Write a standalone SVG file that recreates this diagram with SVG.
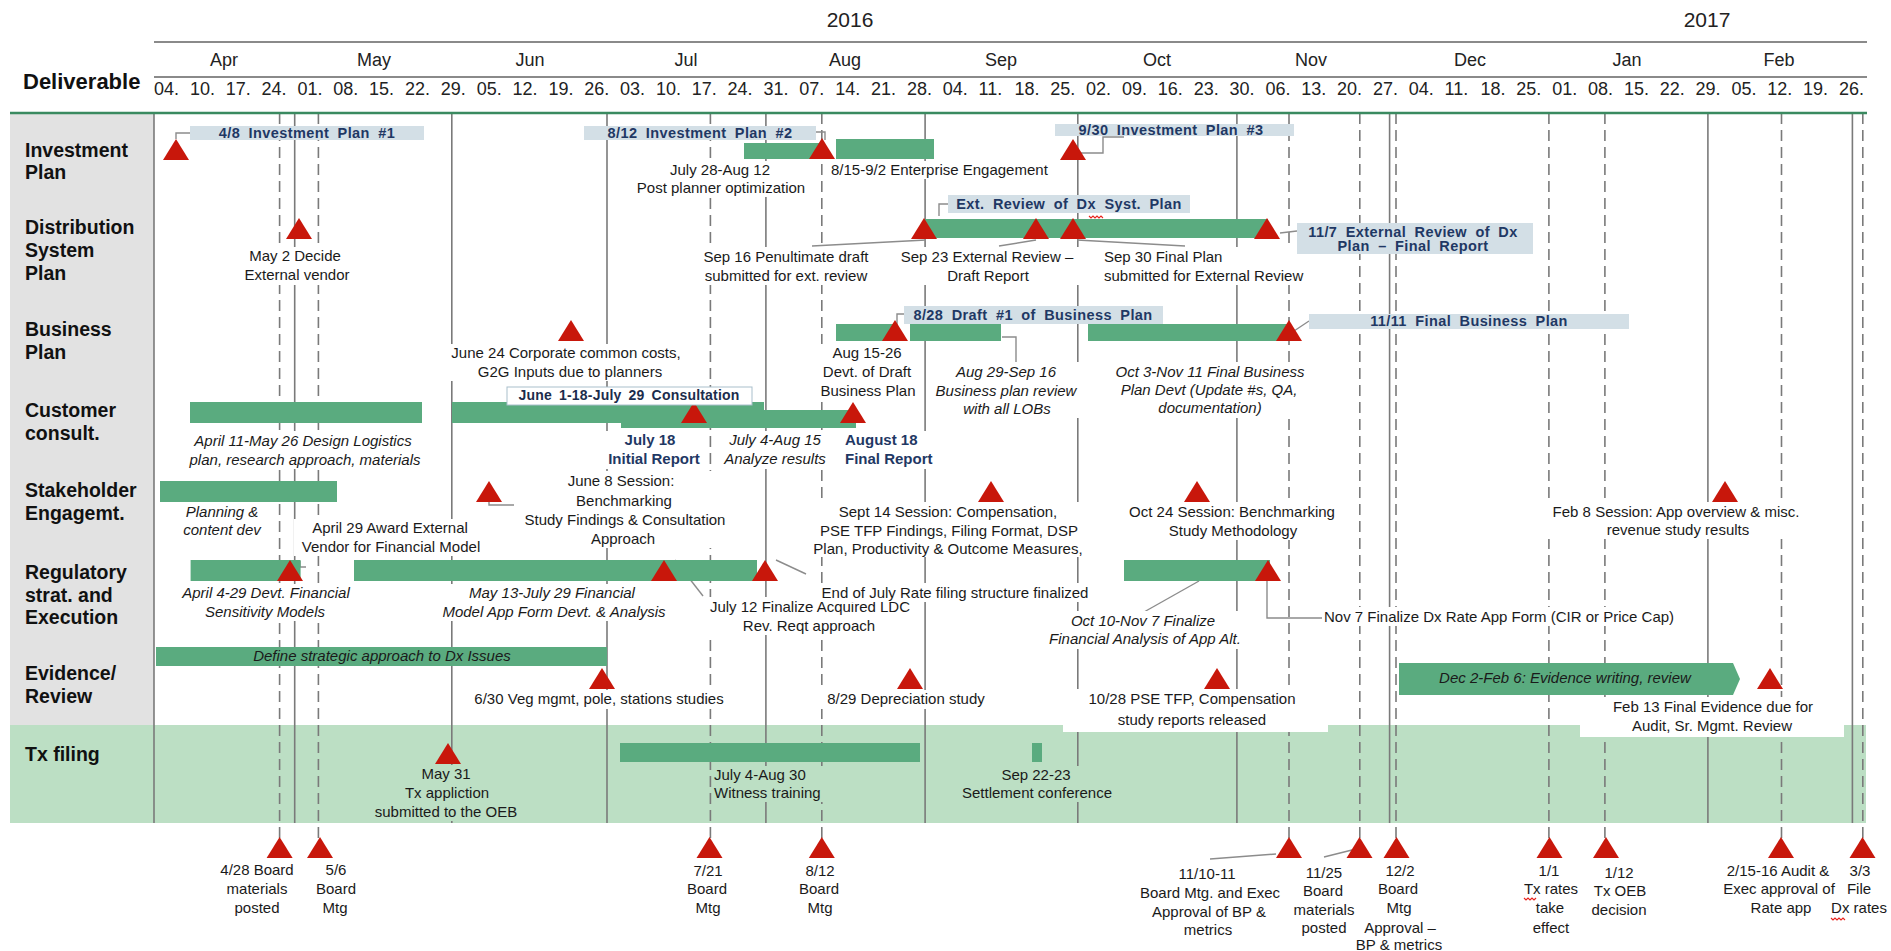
<svg xmlns="http://www.w3.org/2000/svg" width="1891" height="951" viewBox="0 0 1891 951">
<style>
text{font-family:"Liberation Sans",Arial,Helvetica,sans-serif;fill:#1a1a1a}
.l{font-size:15px;text-anchor:middle}
.s{text-anchor:start}
.i{font-style:italic}
.nb{font-weight:bold;fill:#1f3864}
.row{font-size:19.5px;font-weight:bold;fill:#111}
.mo{font-size:18px;text-anchor:middle;fill:#222}
.wk{font-size:18px;fill:#222}
.yr{font-size:21px;text-anchor:middle;fill:#222}
.ct{font-size:14.5px;font-weight:bold;fill:#1f3864;text-anchor:middle;word-spacing:4px;letter-spacing:0.4px}
.bar{fill:#5aab7f}
.tri{fill:#c8170b}
.g{stroke:#7a7a7a;stroke-width:1.6}
.d{stroke-dasharray:11 6}
.call{fill:#d3dfe6}
.wb{fill:#fff}
.gb{fill:#bcdfc4}
.ld{stroke:#8c8c8c;stroke-width:1.4;fill:none}
.sq{stroke:#e8231c;stroke-width:1.1;fill:none}
</style>
<defs>
<path id="tri" d="M0,0 L13,21 L-13,21 Z"/>
</defs>

<!-- page background and row bands -->
<rect x="0" y="0" width="1891" height="951" fill="#fff"/>
<rect x="10" y="114" width="144" height="611" fill="#e2e2e2"/>
<rect x="10" y="725" width="1856" height="98" class="gb"/>

<!-- week / month grid -->
<g id="grid">
<line class="g" x1="154" y1="113" x2="154" y2="823"/>
<line class="g" x1="294.7" y1="113" x2="294.7" y2="823"/>
<line class="g" x1="451.8" y1="113" x2="451.8" y2="823"/>
<line class="g" x1="607" y1="113" x2="607" y2="823"/>
<line class="g" x1="765.9" y1="113" x2="765.9" y2="823"/>
<line class="g" x1="925.1" y1="113" x2="925.1" y2="823"/>
<line class="g" x1="1077.8" y1="113" x2="1077.8" y2="823"/>
<line class="g" x1="1236.9" y1="113" x2="1236.9" y2="823"/>
<line class="g" x1="1389.6" y1="113" x2="1389.6" y2="823"/>
<line class="g" x1="1707.9" y1="113" x2="1707.9" y2="823"/>
<line class="g" x1="1852.4" y1="113" x2="1852.4" y2="823"/>
<line class="g d" x1="279.6" y1="113" x2="279.6" y2="838"/>
<line class="g d" x1="318.4" y1="113" x2="318.4" y2="838"/>
<line class="g d" x1="710.4" y1="113" x2="710.4" y2="838"/>
<line class="g d" x1="821.8" y1="113" x2="821.8" y2="838"/>
<line class="g d" x1="1289" y1="113" x2="1289" y2="838"/>
<line class="g d" x1="1359.8" y1="113" x2="1359.8" y2="838"/>
<line class="g d" x1="1396" y1="113" x2="1396" y2="838"/>
<line class="g d" x1="1548.9" y1="113" x2="1548.9" y2="838"/>
<line class="g d" x1="1604.9" y1="113" x2="1604.9" y2="838"/>
<line class="g d" x1="1781.5" y1="113" x2="1781.5" y2="838"/>
<line class="g d" x1="1862.8" y1="113" x2="1862.8" y2="838"/>
</g>

<!-- timeline header -->
<g id="header">
<line x1="154" y1="42" x2="1867" y2="42" stroke="#8a8a8a" stroke-width="2"/>
<line x1="154" y1="77" x2="1867" y2="77" stroke="#8a8a8a" stroke-width="2"/>
<line x1="10" y1="113" x2="1867" y2="113" stroke="#3a8a60" stroke-width="2.5"/>
<text class="yr" x="850" y="27">2016</text>
<text class="yr" x="1707" y="27">2017</text>
<text class="mo" x="224" y="66">Apr</text>
<text class="mo" x="374" y="66">May</text>
<text class="mo" x="530" y="66">Jun</text>
<text class="mo" x="686" y="66">Jul</text>
<text class="mo" x="845" y="66">Aug</text>
<text class="mo" x="1001" y="66">Sep</text>
<text class="mo" x="1157" y="66">Oct</text>
<text class="mo" x="1311" y="66">Nov</text>
<text class="mo" x="1470" y="66">Dec</text>
<text class="mo" x="1627" y="66">Jan</text>
<text class="mo" x="1779" y="66">Feb</text>
<text x="23" y="89" style="font-size:22px;font-weight:bold;fill:#111">Deliverable</text>
<g class="wk">
<text class="wk" x="154" y="95">04.</text><text class="wk" x="189.9" y="95">10.</text><text class="wk" x="225.7" y="95">17.</text><text class="wk" x="261.6" y="95">24.</text>
<text class="wk" x="297.4" y="95">01.</text><text class="wk" x="333.3" y="95">08.</text><text class="wk" x="369.1" y="95">15.</text><text class="wk" x="405" y="95">22.</text>
<text class="wk" x="440.8" y="95">29.</text><text class="wk" x="476.7" y="95">05.</text><text class="wk" x="512.5" y="95">12.</text><text class="wk" x="548.4" y="95">19.</text>
<text class="wk" x="584.2" y="95">26.</text><text class="wk" x="620.1" y="95">03.</text><text class="wk" x="655.9" y="95">10.</text><text class="wk" x="691.8" y="95">17.</text>
<text class="wk" x="727.6" y="95">24.</text><text class="wk" x="763.5" y="95">31.</text><text class="wk" x="799.3" y="95">07.</text><text class="wk" x="835.2" y="95">14.</text>
<text class="wk" x="871" y="95">21.</text><text class="wk" x="906.9" y="95">28.</text><text class="wk" x="942.7" y="95">04.</text><text class="wk" x="978.6" y="95">11.</text>
<text class="wk" x="1014.4" y="95">18.</text><text class="wk" x="1050.3" y="95">25.</text><text class="wk" x="1086.1" y="95">02.</text><text class="wk" x="1122" y="95">09.</text>
<text class="wk" x="1157.8" y="95">16.</text><text class="wk" x="1193.7" y="95">23.</text><text class="wk" x="1229.5" y="95">30.</text><text class="wk" x="1265.4" y="95">06.</text>
<text class="wk" x="1301.2" y="95">13.</text><text class="wk" x="1337.1" y="95">20.</text><text class="wk" x="1372.9" y="95">27.</text><text class="wk" x="1408.8" y="95">04.</text>
<text class="wk" x="1444.6" y="95">11.</text><text class="wk" x="1480.5" y="95">18.</text><text class="wk" x="1516.3" y="95">25.</text><text class="wk" x="1552.2" y="95">01.</text>
<text class="wk" x="1588" y="95">08.</text><text class="wk" x="1623.9" y="95">15.</text><text class="wk" x="1659.7" y="95">22.</text><text class="wk" x="1695.6" y="95">29.</text>
<text class="wk" x="1731.4" y="95">05.</text><text class="wk" x="1767.3" y="95">12.</text><text class="wk" x="1803.1" y="95">19.</text><text class="wk" x="1839" y="95">26.</text>
</g>
</g>

<!-- row titles -->
<g id="row-titles">
<text class="row" x="25" y="157">Investment</text><text class="row" x="25" y="179">Plan</text>
<text class="row" x="25" y="234">Distribution</text><text class="row" x="25" y="257">System</text><text class="row" x="25" y="280">Plan</text>
<text class="row" x="25" y="336">Business</text><text class="row" x="25" y="359">Plan</text>
<text class="row" x="25" y="417">Customer</text><text class="row" x="25" y="440">consult.</text>
<text class="row" x="25" y="497">Stakeholder</text><text class="row" x="25" y="520">Engagemt.</text>
<text class="row" x="25" y="579">Regulatory</text><text class="row" x="25" y="602">strat. and</text><text class="row" x="25" y="624">Execution</text>
<text class="row" x="25" y="680">Evidence/</text><text class="row" x="25" y="703">Review</text>
<text class="row" x="25" y="761">Tx filing</text>
</g>

<!-- leader lines between labels, callouts and milestones -->
<g id="connectors">
<polyline class="ld" points="176,139 176,133 190,133"/>
<polyline class="ld" points="816,132 825,132 825,140"/>
<polyline class="ld" points="1079,153 1103,153 1103,137 1124,137"/>
<polyline class="ld" points="939,216 939,204 948,204"/>
<line class="ld" x1="812" y1="246" x2="926" y2="240"/>
<line class="ld" x1="999" y1="246" x2="1036" y2="240"/>
<line class="ld" x1="1077" y1="240" x2="1185" y2="246"/>
<line class="ld" x1="1280" y1="233" x2="1297" y2="231"/>
<polyline class="ld" points="897,330 897,314 904,314"/>
<line class="ld" x1="1294" y1="331" x2="1309" y2="321"/>
<polyline class="ld" points="1002,337 1016,337 1016,362"/>
<polyline class="ld" points="489,502 489,505 514,505"/>
<polyline class="ld" points="300,561 300,567 306,567"/>
<line class="ld" x1="675" y1="560" x2="703" y2="596"/>
<line class="ld" x1="776" y1="560" x2="806" y2="574"/>
<line class="ld" x1="1144" y1="612" x2="1199" y2="581"/>
<polyline class="ld" points="1267,581 1267,618 1322,618" stroke-width="2"/>
<line class="ld" x1="1210" y1="859" x2="1276" y2="854"/>
<line class="ld" x1="1324" y1="857" x2="1360" y2="848"/>
</g>

<!-- Investment Plan -->
<g id="investment-plan">
<use href="#tri" class="tri" x="176" y="139"/>
<rect class="call" x="190" y="126" width="234" height="14"/>
<text class="ct" x="307" y="138">4/8 Investment Plan #1</text>
<rect class="call" x="584" y="126" width="232" height="14"/>
<text class="ct" x="700" y="138">8/12 Investment Plan #2</text>
<rect class="bar" x="744" y="143" width="77" height="16"/>
<rect class="bar" x="836" y="139" width="98" height="20"/>
<use href="#tri" class="tri" x="822" y="138"/>
<rect class="wb" x="630" y="161" width="182" height="36"/>
<text class="l" x="720" y="175">July 28-Aug 12</text>
<text class="l" x="721" y="193">Post planner optimization</text>
<rect class="wb" x="828" y="161" width="232" height="18"/>
<text class="l s" x="831" y="175">8/15-9/2 Enterprise Engagement</text>
<use href="#tri" class="tri" x="1073" y="139"/>
<rect class="call" x="1055" y="124" width="239" height="12"/>
<text class="ct" x="1171" y="135">9/30 Investment Plan #3</text>
</g>

<!-- Distribution System Plan -->
<g id="distribution-system-plan">
<use href="#tri" class="tri" x="299" y="218"/>
<rect class="wb" x="243" y="247" width="109" height="38"/>
<text class="l" x="295" y="261">May 2 Decide</text>
<text class="l" x="297" y="280">External vendor</text>
<rect class="call" x="948" y="195" width="242" height="18"/>
<text class="ct" x="1069" y="209">Ext. Review of Dx Syst. Plan</text>
<path class="sq" d="M1089,216 l2,2 l2,-2 l2,2 l2,-2 l2,2 l2,-2 l2,2"/>
<rect class="bar" x="925" y="219" width="343" height="19"/>
<use href="#tri" class="tri" x="924" y="218"/>
<use href="#tri" class="tri" x="1036" y="218"/>
<use href="#tri" class="tri" x="1073" y="218"/>
<use href="#tri" class="tri" x="1267" y="218"/>
<rect class="wb" x="696" y="247" width="178" height="38"/>
<text class="l" x="786" y="262">Sep 16 Penultimate draft</text>
<text class="l" x="786" y="281">submitted for ext. review</text>
<rect class="wb" x="893" y="247" width="187" height="38"/>
<text class="l" x="987" y="262">Sep 23 External Review –</text>
<text class="l" x="988" y="281">Draft Report</text>
<rect class="wb" x="1101" y="247" width="213" height="38"/>
<text class="l s" x="1104" y="262">Sep 30 Final Plan</text>
<text class="l s" x="1104" y="281">submitted for External Review</text>
<rect class="call" x="1297" y="223" width="236" height="31"/>
<text class="ct" x="1413" y="237">11/7 External Review of Dx</text>
<text class="ct" x="1413" y="251">Plan – Final Report</text>
</g>

<!-- Business Plan -->
<g id="business-plan">
<use href="#tri" class="tri" x="571" y="320"/>
<rect class="wb" x="443" y="344" width="247" height="37"/>
<text class="l" x="566" y="358">June 24 Corporate common costs,</text>
<text class="l" x="570" y="377">G2G Inputs due to planners</text>
<rect class="bar" x="836" y="324" width="60" height="17"/>
<rect class="bar" x="910" y="324" width="91" height="17"/>
<rect class="bar" x="1088" y="324" width="200" height="17"/>
<use href="#tri" class="tri" x="895" y="320"/>
<use href="#tri" class="tri" x="1289" y="320"/>
<rect class="call" x="904" y="306" width="259" height="18"/>
<text class="ct" x="1033" y="320">8/28 Draft #1 of Business Plan</text>
<rect class="call" x="1309" y="314" width="320" height="15"/>
<text class="ct" x="1469" y="326">11/11 Final Business Plan</text>
<rect class="wb" x="815" y="344" width="106" height="56"/>
<text class="l" x="867" y="358">Aug 15-26</text>
<text class="l" x="867" y="377">Devt. of Draft</text>
<text class="l" x="868" y="396">Business Plan</text>
<rect class="wb" x="928" y="362" width="155" height="56"/>
<text class="l i" x="1006" y="377">Aug 29-Sep 16</text>
<text class="l i" x="1006" y="396">Business plan review</text>
<text class="l i" x="1007" y="414">with all LOBs</text>
<rect class="wb" x="1105" y="362" width="209" height="56"/>
<text class="l i" x="1210" y="377">Oct 3-Nov 11 Final Business</text>
<text class="l i" x="1209" y="395">Plan Devt (Update #s, QA,</text>
<text class="l i" x="1210" y="413">documentation)</text>
</g>

<!-- Customer consultation -->
<g id="customer-consult">
<rect class="bar" x="190" y="402" width="232" height="21"/>
<rect class="bar" x="452" y="402" width="312" height="21"/>
<rect class="bar" x="621" y="410" width="235" height="18"/>
<use href="#tri" class="tri" x="694" y="402"/>
<use href="#tri" class="tri" x="853" y="402"/>
<rect x="507" y="387" width="245" height="18" fill="#fff" stroke="#a9bfcc" stroke-width="1"/>
<text class="ct" x="629" y="400" style="fill:#1c2c4c;font-size:14px;word-spacing:3px;letter-spacing:0.2px">June 1-18-July 29 Consultation</text>
<rect class="wb" x="180" y="431" width="250" height="38"/>
<text class="l i" x="303" y="446">April 11-May 26 Design Logistics</text>
<text class="l i" x="305" y="465">plan, research approach, materials</text>
<rect class="wb" x="605" y="431" width="98" height="38"/>
<text class="l nb" x="650" y="445">July 18</text>
<text class="l nb" x="654" y="464">Initial Report</text>
<rect class="wb" x="717" y="431" width="115" height="38"/>
<text class="l i" x="775" y="445">July 4-Aug 15</text>
<text class="l i" x="775" y="464">Analyze results</text>
<rect class="wb" x="843" y="431" width="94" height="38"/>
<text class="l nb s" x="845" y="445">August 18</text>
<text class="l nb s" x="845" y="464">Final Report</text>
</g>

<!-- Stakeholder engagement -->
<g id="stakeholder-engagement">
<rect class="bar" x="160" y="481" width="177" height="21"/>
<rect class="wb" x="178" y="503" width="88" height="36"/>
<text class="l i" x="222" y="517">Planning &amp;</text>
<text class="l i" x="222" y="535">content dev</text>
<rect class="wb" x="294" y="519" width="194" height="37"/>
<text class="l" x="390" y="533">April 29 Award External</text>
<text class="l" x="391" y="552">Vendor for Financial Model</text>
<use href="#tri" class="tri" x="489" y="481"/>
<rect class="wb" x="515" y="471" width="219" height="77"/>
<text class="l" x="621" y="486">June 8 Session:</text>
<text class="l" x="624" y="506">Benchmarking</text>
<text class="l" x="625" y="525">Study Findings &amp; Consultation</text>
<text class="l" x="623" y="544">Approach</text>
<use href="#tri" class="tri" x="991" y="481"/>
<rect class="wb" x="805" y="502" width="288" height="55"/>
<text class="l" x="948" y="517">Sept 14 Session: Compensation,</text>
<text class="l" x="949" y="536">PSE TFP Findings, Filing Format, DSP</text>
<text class="l" x="948" y="554">Plan, Productivity &amp; Outcome Measures,</text>
<use href="#tri" class="tri" x="1197" y="481"/>
<rect class="wb" x="1122" y="502" width="220" height="38"/>
<text class="l" x="1232" y="517">Oct 24 Session: Benchmarking</text>
<text class="l" x="1233" y="536">Study Methodology</text>
<use href="#tri" class="tri" x="1725" y="481"/>
<rect class="wb" x="1540" y="502" width="273" height="37"/>
<text class="l" x="1676" y="517">Feb 8 Session: App overview &amp; misc.</text>
<text class="l" x="1678" y="535">revenue study results</text>
</g>

<!-- Regulatory strategy and execution -->
<g id="regulatory-strategy">
<rect class="bar" x="190.6" y="560" width="110" height="21"/>
<use href="#tri" class="tri" x="290" y="560"/>
<rect class="bar" x="354" y="560" width="403" height="21"/>
<use href="#tri" class="tri" x="664" y="560"/>
<use href="#tri" class="tri" x="765" y="560"/>
<rect class="wb" x="173" y="584" width="185" height="37"/>
<text class="l i" x="266" y="598">April 4-29 Devt. Financial</text>
<text class="l i" x="265" y="617">Sensitivity Models</text>
<rect class="wb" x="431" y="584" width="245" height="37"/>
<text class="l i" x="552" y="598">May 13-July 29 Financial</text>
<text class="l i" x="554" y="617">Model App Form Devt. &amp; Analysis</text>
<rect class="wb" x="701" y="597" width="217" height="38"/>
<text class="l" x="810" y="612">July 12 Finalize Acquired LDC</text>
<text class="l" x="809" y="631">Rev. Reqt approach</text>
<rect class="wb" x="811" y="583" width="288" height="19"/>
<text class="l" x="955" y="598">End of July Rate filing structure finalized</text>
<rect class="bar" x="1124" y="560" width="146" height="21"/>
<use href="#tri" class="tri" x="1268" y="560"/>
<rect class="wb" x="1038" y="611" width="214" height="38"/>
<text class="l i" x="1143" y="626">Oct 10-Nov 7 Finalize</text>
<text class="l i" x="1145" y="644">Financial Analysis of App Alt.</text>
<rect class="wb" x="1322" y="607" width="378" height="19"/>
<text class="l s" x="1324" y="622">Nov 7 Finalize Dx Rate App Form (CIR or Price Cap)</text>
</g>

<!-- Evidence / review -->
<g id="evidence-review">
<rect class="bar" x="156" y="647" width="451" height="19"/>
<text class="l i" x="382" y="661">Define strategic approach to Dx Issues</text>
<use href="#tri" class="tri" x="602" y="668"/>
<rect class="wb" x="463" y="690" width="271" height="19"/>
<text class="l" x="599" y="704">6/30 Veg mgmt, pole, stations studies</text>
<use href="#tri" class="tri" x="910" y="668"/>
<rect class="wb" x="820" y="690" width="172" height="19"/>
<text class="l" x="906" y="704">8/29 Depreciation study</text>
<use href="#tri" class="tri" x="1217" y="668"/>
<rect class="wb" x="1063" y="689" width="265" height="43"/>
<text class="l" x="1192" y="704">10/28 PSE TFP, Compensation</text>
<text class="l" x="1192" y="725">study reports released</text>
<path class="bar" d="M1399,663 H1733 L1740,679 L1733,695 H1399 Z"/>
<text class="l i" x="1565" y="683">Dec 2-Feb 6: Evidence writing, review</text>
<use href="#tri" class="tri" x="1770" y="668"/>
<rect class="wb" x="1580" y="697" width="264" height="40"/>
<text class="l" x="1713" y="712">Feb 13 Final Evidence due for</text>
<text class="l" x="1712" y="731">Audit, Sr. Mgmt. Review</text>
</g>

<!-- Tx filing -->
<g id="tx-filing">
<use href="#tri" class="tri" x="448" y="743"/>
<rect class="gb" x="368" y="765" width="157" height="56"/>
<text class="l" x="446" y="779">May 31</text>
<text class="l" x="447" y="798">Tx appliction</text>
<text class="l" x="446" y="817">submitted to the OEB</text>
<rect class="bar" x="620" y="743" width="300" height="19"/>
<rect class="gb" x="712" y="766" width="118" height="36"/>
<text class="l s" x="714" y="780">July 4-Aug 30</text>
<text class="l s" x="714" y="798">Witness training</text>
<rect class="bar" x="1032" y="743" width="10" height="19"/>
<rect class="gb" x="955" y="766" width="163" height="36"/>
<text class="l" x="1036" y="780">Sep 22-23</text>
<text class="l" x="1037" y="798">Settlement conference</text>
</g>

<!-- Board and regulator milestones -->
<g id="milestone-0428">
<use href="#tri" class="tri" x="279.6" y="837"/>
<text class="l" x="257" y="875">4/28 Board</text><text class="l" x="257" y="894">materials</text><text class="l" x="257" y="913">posted</text>
</g>
<g id="milestone-0506">
<use href="#tri" class="tri" x="320" y="837"/>
<text class="l" x="336" y="875">5/6</text><text class="l" x="336" y="894">Board</text><text class="l" x="335" y="913">Mtg</text>
</g>
<g id="milestone-0721">
<use href="#tri" class="tri" x="709.5" y="837"/>
<text class="l" x="708" y="876">7/21</text><text class="l" x="707" y="894">Board</text><text class="l" x="708" y="913">Mtg</text>
</g>
<g id="milestone-0812">
<use href="#tri" class="tri" x="821.8" y="837"/>
<text class="l" x="820" y="876">8/12</text><text class="l" x="819" y="894">Board</text><text class="l" x="820" y="913">Mtg</text>
</g>
<g id="milestone-1110">
<use href="#tri" class="tri" x="1289" y="837"/>
<text class="l" x="1207" y="879">11/10-11</text><text class="l" x="1210" y="898">Board Mtg. and Exec</text><text class="l" x="1209" y="917">Approval of BP &amp;</text><text class="l" x="1208" y="935">metrics</text>
</g>
<g id="milestone-1125">
<use href="#tri" class="tri" x="1359.5" y="837"/>
<text class="l" x="1324" y="878">11/25</text><text class="l" x="1323" y="896">Board</text><text class="l" x="1324" y="915">materials</text><text class="l" x="1324" y="933">posted</text>
</g>
<g id="milestone-1202">
<use href="#tri" class="tri" x="1396.5" y="837"/>
<text class="l" x="1400" y="876">12/2</text><text class="l" x="1398" y="894">Board</text><text class="l" x="1399" y="913">Mtg</text><text class="l" x="1400" y="933">Approval –</text><text class="l" x="1399" y="950">BP &amp; metrics</text>
</g>
<g id="milestone-0101">
<use href="#tri" class="tri" x="1549.5" y="837"/>
<text class="l" x="1549" y="876">1/1</text><text class="l" x="1551" y="894">Tx rates</text><text class="l" x="1550" y="913">take</text><text class="l" x="1551" y="933">effect</text>
<path class="sq" d="M1524,898 l2,2 l2,-2 l2,2 l2,-2 l2,2 l2,-2"/>
</g>
<g id="milestone-0112">
<use href="#tri" class="tri" x="1606" y="837"/>
<text class="l" x="1619" y="878">1/12</text><text class="l" x="1620" y="896">Tx OEB</text><text class="l" x="1619" y="915">decision</text>
</g>
<g id="milestone-0215">
<use href="#tri" class="tri" x="1781" y="837"/>
<text class="l" x="1778" y="876">2/15-16 Audit &amp;</text><text class="l" x="1779" y="894">Exec approval of</text><text class="l" x="1781" y="913">Rate app</text>
</g>
<g id="milestone-0303">
<use href="#tri" class="tri" x="1862.5" y="837"/>
<text class="l" x="1860" y="876">3/3</text><text class="l" x="1859" y="894">File</text><text class="l" x="1859" y="913">Dx rates</text>
<path class="sq" d="M1831,918 l2,2 l2,-2 l2,2 l2,-2 l2,2 l2,-2 l2,2"/>
</g>
</svg>
